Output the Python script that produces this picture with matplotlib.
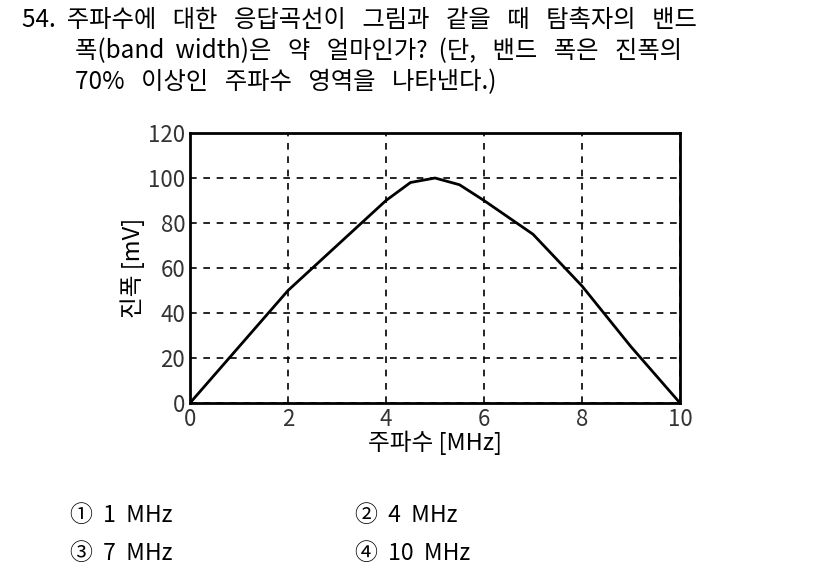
import matplotlib
matplotlib.use("Agg")
import matplotlib.pyplot as plt

plt.rcParams['font.family'] = ['Noto Sans CJK KR', 'DejaVu Sans']

# 응답곡선 데이터
freq = [0, 1, 2, 3, 4, 4.5, 5, 5.5, 6, 7, 8, 9, 10]
amp = [0, 25, 50, 70, 90, 98, 100, 97, 90, 75, 52, 25, 0]
xticks = [0, 2, 4, 6, 8, 10]
yticks = [0, 20, 40, 60, 80, 100, 120]

fig = plt.figure(figsize=(8.26, 5.71), dpi=100)

fig.text(22/826, 1-20/571, "54.  주파수에   대한   응답곡선이   그림과   같을   때   탐촉자의   밴드",
         fontsize=17.5, va='center')
fig.text(75/826, 1-51/571, "폭(band  width)은   약   얼마인가?  (단,   밴드   폭은   진폭의",
         fontsize=17.5, va='center')
fig.text(75/826, 1-82/571, "70%   이상인   주파수   영역을   나타낸다.)", fontsize=17.5, va='center')

ax = fig.add_axes([190/826, 1-403/571, 490/826, 270/571])
ax.plot(freq, amp, color='black', lw=2)
ax.set_xlim(0, 10)
ax.set_ylim(0, 120)
ax.set_xticks(xticks)
ax.set_yticks(yticks)
ax.tick_params(labelsize=16, length=0, colors='#333333')
ax.grid(True, color='black', ls=(0, (4, 4)), lw=1.2)
for s in ax.spines.values():
    s.set_linewidth(2)
ax.set_xlabel("주파수 [MHz]", fontsize=17, labelpad=0)
ax.set_ylabel("진폭 [mV]", fontsize=17, labelpad=2)

opts = [("①  1  MHz", 70, 515), ("②  4  MHz", 355, 515),
        ("③  7  MHz", 70, 553), ("④  10  MHz", 355, 553)]
for t, x, y in opts:
    fig.text(x/826, 1-y/571, t, fontsize=16.5, va='center')

fig.savefig("out.png", dpi=100)
